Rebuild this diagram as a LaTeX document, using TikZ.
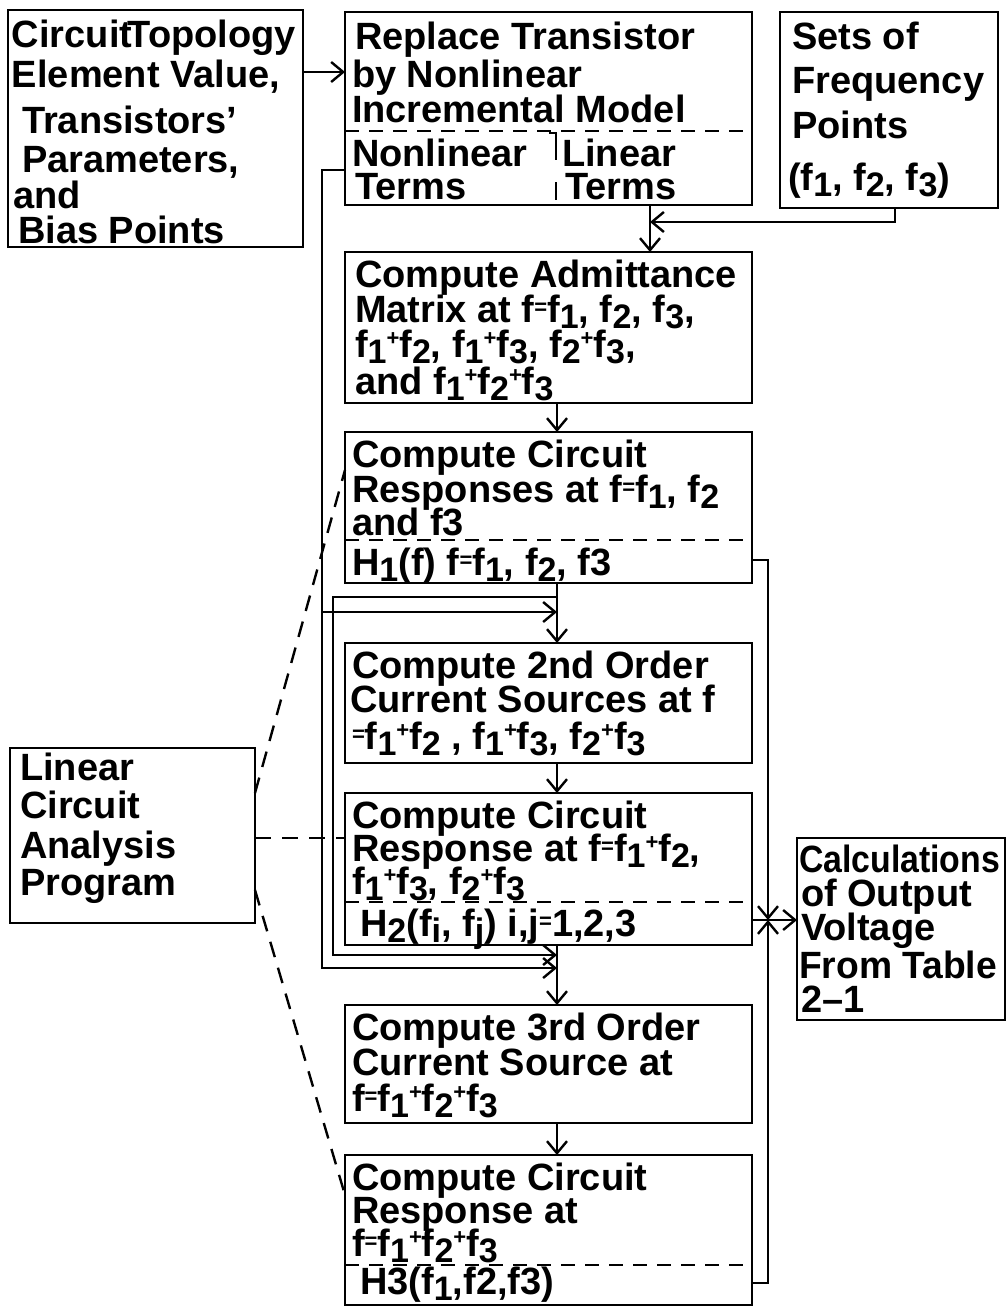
\documentclass[tikz,border=0pt]{standalone}
\usepackage{fontspec}
\setmainfont{Liberation Sans}
\usetikzlibrary{arrows.meta}
\newcommand\lw[1]{\raisebox{-0.16em}{\fontsize{34}{34}\selectfont #1}}
\newcommand\pp{\raisebox{0.3em}{\fontsize{22}{22}\selectfont +}}
\newcommand\eqq{\raisebox{0.2em}{\fontsize{22}{22}\selectfont =}}
\begin{document}
\begin{tikzpicture}[x=1pt,y=-1pt,
  box/.style={draw, line width=2.6pt, anchor=north west, inner sep=0pt, outer sep=0pt},
  txt/.style={anchor=base west, inner sep=0pt, outer sep=0pt, text height=27pt, text depth=4pt, font=\bfseries\fontsize{38}{38}\selectfont},
  arr/.style={line width=2.4pt, -{Straight Barb[length=12pt,width=20pt,line width=2.4pt]}},
  con/.style={line width=2.4pt},
  dsh/.style={line width=2.4pt, dash pattern=on 16pt off 11pt},
  dvd/.style={line width=2.2pt, dash pattern=on 14pt off 10pt}]
\useasboundingbox (0,0) rectangle (1007,1306);
\fill[white] (0,0) rectangle (1007,1306);

% boxes
\node[box, minimum width=295pt, minimum height=237pt] (b1) at (8,10) {};
\node[box, minimum width=407pt, minimum height=193pt] (b2) at (345,12) {};
\node[box, minimum width=218pt, minimum height=196pt] (b3) at (780,12) {};
\node[box, minimum width=407pt, minimum height=151pt] (b4) at (345,252) {};
\node[box, minimum width=407pt, minimum height=151pt] (b5) at (345,432) {};
\node[box, minimum width=407pt, minimum height=120pt] (b6) at (345,643) {};
\node[box, minimum width=407pt, minimum height=152pt] (b7) at (345,793) {};
\node[box, minimum width=407pt, minimum height=118pt] (b8) at (345,1005) {};
\node[box, minimum width=407pt, minimum height=150pt] (b9) at (345,1155) {};
\node[box, minimum width=245pt, minimum height=175pt] (b10) at (10,748) {};
\node[box, minimum width=208pt, minimum height=182pt] (b11) at (797,838) {};

% inner dividers
\draw[dvd] (b2.west |- 0,131) -- (b2.east |- 0,131);
\draw[con] (549,133) -- (556,133) -- (556,160);
\draw[con] (556,182) -- (556,200);
\draw[dvd] (b5.west |- 0,540) -- (b5.east |- 0,540);
\draw[dvd] (b7.west |- 0,902) -- (b7.east |- 0,902);
\draw[dvd] (b9.west |- 0,1265) -- (b9.east |- 0,1265);

% texts box 1
\node[txt] (t1a) at (12,48) {Circuit\kern-0.12em Topology};
\node[txt] (t1b) at (12,88) {Element Value,};
\node[txt] (t1c) at (22,133) {Transistors’};
\node[txt] (t1d) at (22,172) {Parameters,};
\node[txt] (t1e) at (13,208) {and};
\node[txt] (t1f) at (18,243) {Bias Points};
% box 2
\node[txt] (t2a) at (355,50) {Replace Transistor};
\node[txt] (t2b) at (352,88) {by Nonlinear};
\node[txt] (t2c) at (352,122) {Incremental Model};
\node[txt] (t2d) at (352,166) {Nonlinear};
\node[txt] (t2e) at (355,199) {Terms};
\node[txt] (t2f) at (562,166) {Linear};
\node[txt] (t2g) at (565,199) {Terms};
% box 3
\node[txt] (t3a) at (792,50) {Sets of};
\node[txt] (t3b) at (792,93) {Frequency};
\node[txt] (t3c) at (792,138) {Points};
\node[txt] (t3d) at (788,190) {(f\lw1, f\lw2, f\lw3)};
% box 4
\node[txt] (t4a) at (355,287) {Compute Admittance};
\node[txt] (t4b) at (355,322) {Matrix at f\eqq f\lw1, f\lw2, f\lw3,};
\node[txt] (t4c) at (355,357) {f\lw1\pp f\lw2, f\lw1\pp f\lw3, f\lw2\pp f\lw3,};
\node[txt] (t4d) at (355,394) {and f\lw1\pp f\lw2\pp f\lw3};
% box 5
\node[txt] (t5a) at (352,467) {Compute Circuit};
\node[txt] (t5b) at (352,502) {Responses at f\eqq f\lw1, f\lw2};
\node[txt] (t5c) at (352,535) {and f3};
\node[txt] (t5d) at (352,575) {H\lw1(f) f\eqq f\lw1, f\lw2, f3};
% box 6
\node[txt] (t6a) at (352,678) {Compute 2nd Order};
\node[txt] (t6b) at (350,712) {Current Sources at f};
\node[txt] (t6c) at (352,749) {\eqq f\lw1\pp f\lw2 , f\lw1\pp f\lw3, f\lw2\pp f\lw3};
% box 7
\node[txt] (t7a) at (352,828) {Compute Circuit};
\node[txt] (t7b) at (352,861) {Response at f\eqq f\lw1\pp f\lw2,};
\node[txt] (t7c) at (352,894) {f\lw1\pp f\lw3, f\lw2\pp f\lw3};
\node[txt] (t7d) at (360,936) {H\lw2(f\lw i, f\lw j) i,j\eqq 1,2,3};
% box 8
\node[txt] (t8a) at (352,1040) {Compute 3rd Order};
\node[txt] (t8b) at (352,1075) {Current Source at};
\node[txt] (t8c) at (352,1111) {f\eqq f\lw1\pp f\lw2\pp f\lw3};
% box 9
\node[txt] (t9a) at (352,1190) {Compute Circuit};
\node[txt] (t9b) at (352,1223) {Response at};
\node[txt] (t9c) at (352,1256) {f\eqq f\lw1\pp f\lw2\pp f\lw3};
\node[txt] (t9d) at (360,1294) {H3(f\lw1,f2,f3)};
% box 10
\node[txt] (t10a) at (20,780) {Linear};
\node[txt] (t10b) at (20,818) {Circuit};
\node[txt] (t10c) at (20,858) {Analysis};
\node[txt] (t10d) at (20,895) {Program};
% box 11
\node[txt] (t11a) at (799,872) {\scalebox{0.89}[1]{Calculations}};
\node[txt] (t11b) at (801,906) {of Output};
\node[txt] (t11c) at (801,940) {Voltage};
\node[txt] (t11d) at (799,978) {\scalebox{0.98}[1]{From Table}};
\node[txt] (t11e) at (801,1012) {2–1};

% connectors
\coordinate (col) at (557,0);
\coordinate (jn) at (768,920);
\draw[arr] (b1.east |- 0,72) -- (b2.west |- 0,72);
\draw[arr] (b3.south -| 895,0) -- (895,222) -- (650,222);
\draw[arr] (b2.south -| 650,0) -- (b4.north -| 650,0);
\draw[arr] (col |- b4.south) -- (col |- b5.north);
\draw[arr] (col |- b5.south) -- (col |- b6.north);
\draw[arr] (col |- b6.south) -- (col |- b7.north);
\draw[arr] (col |- b7.south) -- (col |- b8.north);
\draw[arr] (col |- b8.south) -- (col |- b9.north);
\draw[arr] (b2.west |- 0,170) -- (322,170) -- (322,968) -- (col |- 0,968);
\draw[arr] (322,612) -- (col |- 0,612);
\draw[arr] (col |- 0,597) -- (333,597) -- (333,955) -- (col |- 0,955);
\draw[arr] (b5.east |- 0,560) -| (jn);
\draw[arr] (b9.east |- 0,1283) -| (jn);
\draw[arr] (b7.east |- jn) -- (b11.west |- jn);

% dashed links
\draw[dsh] (b10.east |- 0,793) -- (b5.west |- 0,470);
\draw[dsh] (b10.east |- 0,838) -- (b7.west |- 0,838);
\draw[dsh] (b10.east |- 0,890) -- (b9.west |- 0,1195);
\end{tikzpicture}
\end{document}
